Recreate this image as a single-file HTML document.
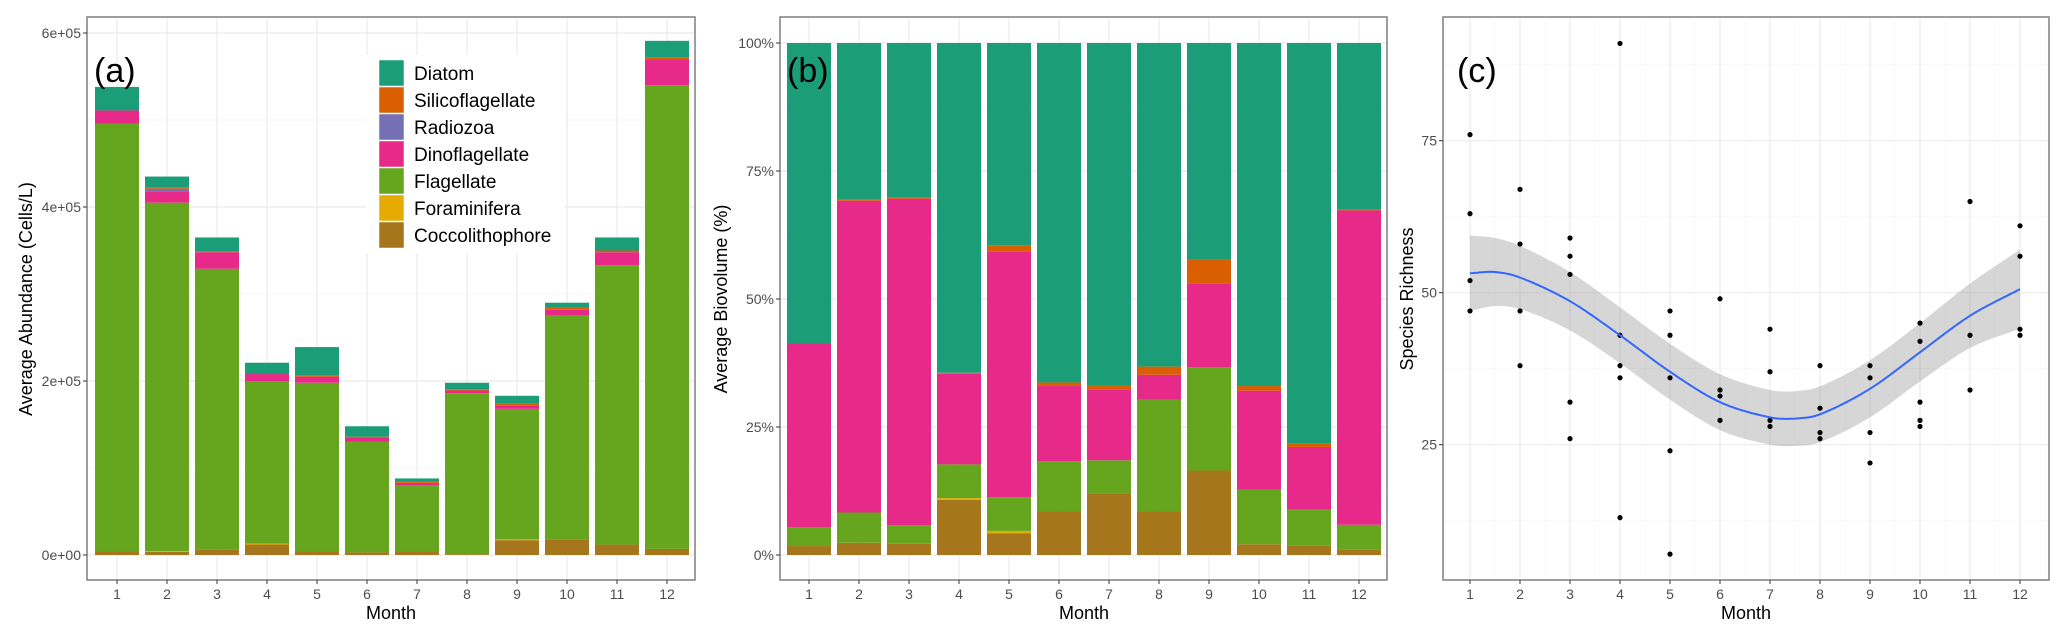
<!DOCTYPE html>
<html><head><meta charset="utf-8">
<style>
html,body{margin:0;padding:0;background:#fff;}
svg{display:block;font-family:"Liberation Sans",Arial,sans-serif;}
</style></head>
<body>
<svg id="fig" width="2067" height="635" viewBox="0 0 2067 635" xmlns="http://www.w3.org/2000/svg">
<rect x="0" y="0" width="2067" height="635" fill="#fff"/>
<g id="pa"></g>
<g id="pb"></g>
<g id="pc"></g>
</svg>
<script>
const months = [1,2,3,4,5,6,7,8,9,10,11,12];
const groups = ["Coccolithophore","Foraminifera","Flagellate","Dinoflagellate","Radiozoa","Silicoflagellate","Diatom"];
const groupColors = ["#a6761d","#e6ab02","#66a61e","#e7298a","#7570b3","#d95f02","#1b9e77"];
// Panel a: abundance components (cells/L), per month
const abCocco  = [4000,3500,6500,12000,4000,3000,4000,1000,17000,18000,12000,7000];
const abForam  = [0,1000,0,1000,0,0,0,0,1000,0,0,0];
const abFlag   = [492000,400500,322500,187000,194000,127000,76000,185000,150000,257000,321000,533000];
const abDino   = [15000,13000,19000,8000,7000,5000,3000,3000,4000,7000,15000,30000];
const abRadio  = [0,3000,0,0,0,0,0,0,0,0,0,0];
const abSilico = [0,1000,1000,0,1000,1000,1000,1500,2000,2000,2000,2000];
const abDiatom = [27000,13000,16000,13000,33000,12000,4000,7500,9000,6000,15000,19000];
const abTicks = [0,200000,400000,600000];
const abTickLabels = ["0e+00","2e+05","4e+05","6e+05"];
// Panel b: biovolume percent components
const bvCocco  = [1.75,2.4,2.2,10.8,4.2,8.5,12.0,8.5,16.5,2.1,1.9,1.0];
const bvForam  = [0,0,0,0.3,0.5,0,0,0,0,0,0,0];
const bvFlag   = [3.65,5.9,3.6,6.6,6.6,9.8,6.5,21.8,20.2,10.7,7.0,4.9];
const bvDino   = [36.0,60.9,63.8,17.7,47.9,14.7,13.8,4.9,16.3,19.3,12.2,61.4];
const bvRadio  = [0,0,0,0,0,0,0,0,0,0,0,0];
const bvSilico = [0,0.2,0.2,0.2,1.3,0.7,0.8,1.6,4.7,0.9,0.7,0.2];
const bvDiatom = [58.6,30.6,30.2,64.4,39.5,66.3,66.9,63.2,42.3,67.0,78.2,32.5];
const bvTicks = [0,25,50,75,100];
const bvTickLabels = ["0%","25%","50%","75%","100%"];
// Panel c: species richness observations
const rcMonth = [1,1,1,1, 2,2,2,2, 3,3,3,3,3, 4,4,4,4,4, 5,5,5,5,5, 6,6,6,6, 7,7,7,7, 8,8,8,8, 9,9,9,9, 10,10,10,10,10, 11,11,11, 12,12,12,12];
const rcValue = [76,63,52,47, 67,58,47,38, 59,56,53,32,26, 91,43,38,36,13, 47,43,36,24,7, 49,34,33,29, 44,37,29,28, 38,31,27,26, 38,36,27,22, 45,42,32,29,28, 65,43,34, 61,56,44,43];
const fitMonth = [1,1.5,2,3,4,5,6,7,7.5,8,9,10,11,12];
const fitValue = [53.2,53.4,52.5,48.6,43.0,37.0,32.0,29.5,29.3,30.0,34.2,40.2,46.2,50.6];
const fitSE    = [6.2,5.6,5.2,4.8,4.6,4.6,4.6,4.5,4.5,4.6,4.7,4.8,5.3,6.5];
const rcTicks = [25,50,75];

const NS="http://www.w3.org/2000/svg";
function mk(parent,tag,attrs,text){const e=document.createElementNS(NS,tag);for(const k in attrs)e.setAttribute(k,attrs[k]);if(text!==undefined)e.textContent=text;parent.appendChild(e);return e;}

function frame(g,L,T,R,B){
  const bg=mk(g,"rect",{x:L,y:T,width:R-L,height:B-T,fill:"#fff"});
  
  
}
function border(g,L,T,R,B){
  const r=mk(g,"rect",{x:L,y:T,width:R-L,height:B-T,fill:"none",stroke:"#7f7f7f","stroke-width":1.5});
  
  
}
function xaxis(g,x0,B,titleX,title){
  months.forEach((m,i)=>{
    const x=x0(m);
    mk(g,"line",{x1:x,x2:x,y1:B,y2:B+4,stroke:"#333","stroke-width":1});
    const t=mk(g,"text",{x:x,y:B+19,"text-anchor":"middle","font-size":14,fill:"#4d4d4d"},String(m));
    
    
  });
  const t=mk(g,"text",{x:titleX,y:B+39,"text-anchor":"middle","font-size":18,fill:"#000"},title);
  
  
}
function ytitle(g,x,y,title){
  const t=mk(g,"text",{x:x,y:y,"text-anchor":"middle","font-size":18,fill:"#000",transform:`rotate(-90 ${x} ${y})`},title);
  
  
}
function hgrid(g,L,R,y,minor){mk(g,"line",{x1:L,x2:R,y1:y,y2:y,stroke:minor?"#f5f5f5":"#ebebeb","stroke-width":minor?0.7:1.2});}
function vgrid(g,T,B,x,minor){mk(g,"line",{x1:x,x2:x,y1:T,y2:B,stroke:minor?"#f5f5f5":"#ebebeb","stroke-width":minor?0.7:1.2});}

function stacked(g,L,T,R,B,x0,y,series,bw){
  months.forEach((m,i)=>{
    let acc=0;
    series.forEach((s,k)=>{
      const v=s[i]; if(v<=0){return;}
      const y1=y(acc), y2=y(acc+v);
      const r=mk(g,"rect",{x:x0(m)-bw/2,y:y2,width:bw,height:Math.max(0.1,y1-y2),fill:groupColors[k]});
      
      
      acc+=v;
    });
  });
}

// ---------- Panel A ----------
(function(){
  const g=document.getElementById("pa");
  const L=87,T=17,R=695,B=580;
  const x0=m=>117+(m-1)*50;
  const y=v=>555-v*(174/200000);
  frame(g,L,T,R,B);
  [100000,300000,500000].forEach(v=>hgrid(g,L,R,y(v),true));
  abTicks.forEach(v=>hgrid(g,L,R,y(v),false));
  months.forEach(m=>vgrid(g,T,B,x0(m),false));
  stacked(g,L,T,R,B,x0,y,[abCocco,abForam,abFlag,abDino,abRadio,abSilico,abDiatom],44);
  border(g,L,T,R,B);
  abTicks.forEach((v,i)=>{
    mk(g,"line",{x1:L-4,x2:L,y1:y(v),y2:y(v),stroke:"#333"});
    const t=mk(g,"text",{x:L-6,y:y(v)+5,"text-anchor":"end","font-size":14,fill:"#4d4d4d"},abTickLabels[i]);
    
    
  });
  xaxis(g,x0,B,391,"Month");
  ytitle(g,32,299,"Average Abundance (Cells/L)");
  const lab=mk(g,"text",{x:94,y:82,"font-size":34,fill:"#000"},"(a)");
  
  
  // legend
  const lg=mk(g,"g",{});
  
  
  mk(lg,"rect",{x:366,y:55,width:198,height:198,fill:"#fff"});
  for(let k=0;k<7;k++){
    const gi=6-k;
    const e=mk(lg,"g",{});
    
    
    mk(e,"rect",{x:379,y:60+k*27,width:25,height:26,fill:groupColors[gi],stroke:"#fff","stroke-width":0.5});
    mk(e,"text",{x:414,y:80+k*27,"font-size":19,fill:"#000"},groups[gi]);
  }
})();

// ---------- Panel B ----------
(function(){
  const g=document.getElementById("pb");
  const L=780,T=17,R=1387,B=580;
  const x0=m=>809+(m-1)*50;
  const y=v=>555-v*5.12;
  frame(g,L,T,R,B);
  [12.5,37.5,62.5,87.5].forEach(v=>hgrid(g,L,R,y(v),true));
  bvTicks.forEach(v=>hgrid(g,L,R,y(v),false));
  months.forEach(m=>vgrid(g,T,B,x0(m),false));
  stacked(g,L,T,R,B,x0,y,[bvCocco,bvForam,bvFlag,bvDino,bvRadio,bvSilico,bvDiatom],44);
  border(g,L,T,R,B);
  bvTicks.forEach((v,i)=>{
    mk(g,"line",{x1:L-4,x2:L,y1:y(v),y2:y(v),stroke:"#333"});
    const t=mk(g,"text",{x:L-6,y:y(v)+5,"text-anchor":"end","font-size":14,fill:"#4d4d4d"},bvTickLabels[i]);
    
    
  });
  xaxis(g,x0,B,1084,"Month");
  ytitle(g,727,299,"Average Biovolume (%)");
  const lab=mk(g,"text",{x:787,y:82,"font-size":34,fill:"#000"},"(b)");
  
  
})();

// ---------- Panel C ----------
(function(){
  const g=document.getElementById("pc");
  const L=1443,T=17,R=2049,B=580;
  const x0=m=>1470+(m-1)*50;
  const y=v=>292.7-(v-50)*6.08;
  frame(g,L,T,R,B);
  [12.5,37.5,62.5,87.5].forEach(v=>hgrid(g,L,R,y(v),true));
  rcTicks.forEach(v=>hgrid(g,L,R,y(v),false));
  for(let m=0.5;m<=12.5;m+=1)vgrid(g,T,B,x0(m),true);
  months.forEach(m=>vgrid(g,T,B,x0(m),false));
  // spline through fit points
  function interp(xs,ys,x){
    let i=0; while(i<xs.length-2 && x>xs[i+1]) i++;
    const x1=xs[i],x2=xs[i+1],y1=ys[i],y2=ys[i+1];
    const x0_=i>0?xs[i-1]:x1-(x2-x1), y0=i>0?ys[i-1]:y1-(y2-y1);
    const x3=i<xs.length-2?xs[i+2]:x2+(x2-x1), y3=i<xs.length-2?ys[i+2]:y2+(y2-y1);
    const h=x2-x1, t=(x-x1)/h;
    const m1=(y2-y0)/(x2-x0_)*h, m2=(y3-y1)/(x3-x1)*h;
    const t2=t*t,t3=t2*t;
    return (2*t3-3*t2+1)*y1+(t3-2*t2+t)*m1+(-2*t3+3*t2)*y2+(t3-t2)*m2;
  }
  const up=[],lo=[],mid=[];
  for(let x=1;x<=12.0001;x+=0.05){
    const f=interp(fitMonth,fitValue,x), s=interp(fitMonth,fitSE,x);
    mid.push([x0(x),y(f)]); up.push([x0(x),y(f+s)]); lo.push([x0(x),y(f-s)]);
  }
  const band=mk(g,"path",{d:"M"+up.map(p=>p[0].toFixed(1)+","+p[1].toFixed(1)).join("L")+"L"+lo.reverse().map(p=>p[0].toFixed(1)+","+p[1].toFixed(1)).join("L")+"Z",fill:"#999","fill-opacity":0.4});
  
  
  rcMonth.forEach((m,i)=>{
    const c=mk(g,"circle",{cx:x0(m),cy:y(rcValue[i]),r:2.6,fill:"#000"});
    
    
  });
  const ln=mk(g,"path",{d:"M"+mid.map(p=>p[0].toFixed(1)+","+p[1].toFixed(1)).join("L"),fill:"none",stroke:"#3366ff","stroke-width":2});
  
  
  border(g,L,T,R,B);
  rcTicks.forEach(v=>{
    mk(g,"line",{x1:L-4,x2:L,y1:y(v),y2:y(v),stroke:"#333"});
    const t=mk(g,"text",{x:L-6,y:y(v)+5,"text-anchor":"end","font-size":14,fill:"#4d4d4d"},String(v));
    
    
  });
  xaxis(g,x0,B,1746,"Month");
  ytitle(g,1413,299,"Species Richness");
  const lab=mk(g,"text",{x:1457,y:82,"font-size":34,fill:"#000"},"(c)");
  
  
})();
</script>
</body></html>
